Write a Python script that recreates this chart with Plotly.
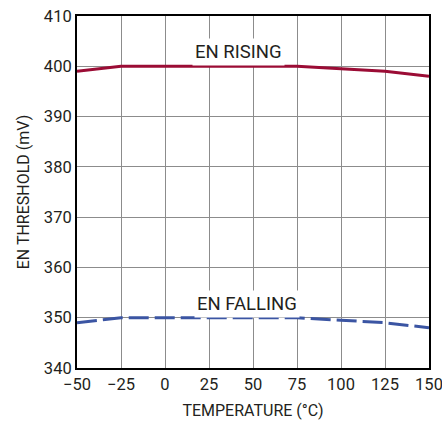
import plotly.graph_objects as go

temps = [-50, -25, 0, 25, 50, 75, 100, 125, 150]
en_rising = [399.0, 400.0, 400.0, 400.0, 400.0, 400.0, 399.5, 399.0, 398.0]
en_falling = [349.0, 350.0, 350.0, 350.0, 350.0, 350.0, 349.5, 349.0, 348.0]
x_ticks = [-50, -25, 0, 25, 50, 75, 100, 125, 150]
x_labels = ["\u221250", "\u221225", "0", "25", "50", "75", "100", "125", "150"]
y_ticks = [340, 350, 360, 370, 380, 390, 400, 410]

FONT = "Roboto"
TXT = "#231f20"

fig = go.Figure()
fig.add_trace(go.Scatter(x=temps, y=en_rising, mode="lines",
                         line=dict(color="#9b0c35", width=3), showlegend=False))
fig.add_trace(go.Scatter(x=temps, y=en_falling, mode="lines",
                         line=dict(color="#3b55a3", width=3, dash="20px,6px"), showlegend=False))

fig.add_annotation(x=41.5, y=402.9, text="EN RISING", showarrow=False,
                   font=dict(size=18.5, color=TXT, family=FONT),
                   bgcolor="white", borderpad=2)
fig.add_annotation(x=46.4, y=352.7, text="EN FALLING", showarrow=False,
                   font=dict(size=18.5, color=TXT, family=FONT),
                   bgcolor="white", borderpad=2)

fig.update_layout(
    width=442, height=421,
    margin=dict(l=77, r=13, t=16, b=53),
    paper_bgcolor="white", plot_bgcolor="white",
    font=dict(family=FONT, size=16, color=TXT),
    xaxis=dict(range=[-50, 150], tickvals=x_ticks, ticktext=x_labels,
               showgrid=True, gridcolor="#8c8c8c", gridwidth=1,
               showline=True, linecolor="black", linewidth=2, mirror=True,
               ticks="", zeroline=False, automargin=False,
               ticklabeloverflow="allow",
               tickfont=dict(size=16.5),
               title=dict(text="TEMPERATURE (\u00b0C)", standoff=12, font=dict(size=16))),
    yaxis=dict(range=[340, 410], tickvals=y_ticks,
               showgrid=True, gridcolor="#8c8c8c", gridwidth=1,
               showline=True, linecolor="black", linewidth=2, mirror=True,
               ticks="", zeroline=False, automargin=False,
               ticklabeloverflow="allow",
               tickfont=dict(size=16.5),
               title=dict(text="EN THRESHOLD (mV)", standoff=10, font=dict(size=16))),
)
fig.write_html("out.html", config={"displayModeBar": False},
               post_script="document.body.style.margin='0';document.body.style.padding='0';")
